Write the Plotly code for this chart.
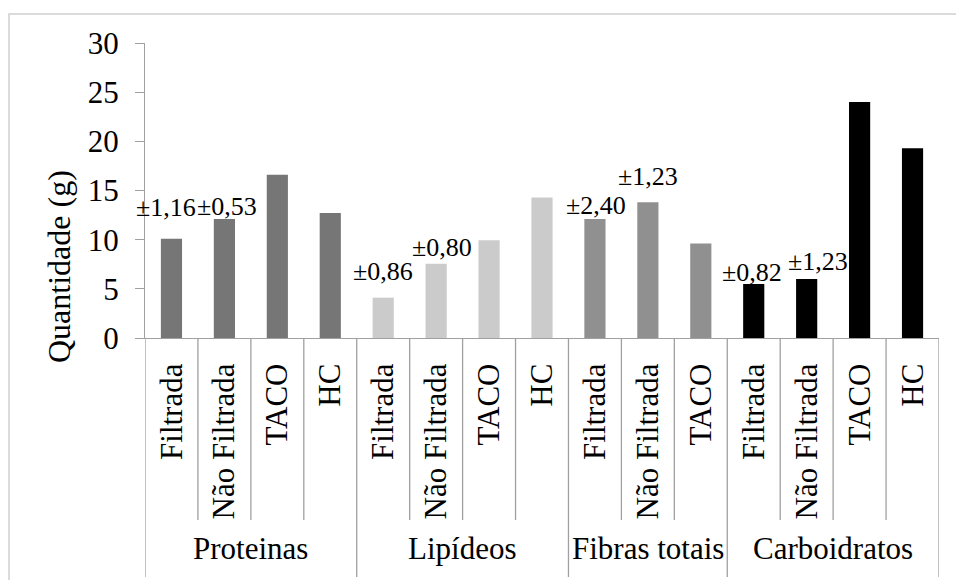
import plotly.graph_objects as go

# ---------------- data ----------------
groups = ["Proteinas", "Lipídeos", "Fibras totais", "Carboidratos"]
group_items = [
    ["Filtrada", "Não Filtrada", "TACO", "HC"],
    ["Filtrada", "Não Filtrada", "TACO", "HC"],
    ["Filtrada", "Não Filtrada", "TACO"],
    ["Filtrada", "Não Filtrada", "TACO", "HC"],
]
proteinas = [10.1, 12.1, 16.6, 12.7]
lipideos = [4.1, 7.55, 9.95, 14.3]
fibras = [12.1, 13.8, 9.6]
carboidratos = [5.5, 6.0, 24.0, 19.3]
group_values = [proteinas, lipideos, fibras, carboidratos]
error_labels = [
    ["±1,16", "±0,53", "", ""],
    ["±0,86", "±0,80", "", ""],
    ["±2,40", "±1,23", ""],
    ["±0,82", "±1,23", "", ""],
]
y_ticks = [0, 5, 10, 15, 20, 25, 30]
y_title = "Quantidade (g)"

# ---------------- style ----------------
group_colors = ["#767676", "#cbcbcb", "#909090", "#000000"]
label_shift = {0: (-5, 31), 1: (3, 13), 4: (0, 26), 5: (6, 16),
               8: (1, 14), 9: (0, 26), 11: (-2, 11), 12: (11, 18)}
W, H = 956, 580
L, R, T, B = 145, 939, 43, 338
serif = "Liberation Serif"
axis_gray = "#a0a0a0"


def px_x(px):
    return (px - L) / (R - L)


def px_y(py):
    return (B - py) / (B - T)


ids, sub_labels, vals, colors, errs = [], [], [], [], []
for gi, (g, items, v, e) in enumerate(zip(groups, group_items, group_values, error_labels)):
    for it, val, er in zip(items, v, e):
        ids.append(f"{g}|{it}")
        sub_labels.append(it)
        vals.append(val)
        colors.append(group_colors[gi])
        errs.append(er)

fig = go.Figure()
fig.add_trace(go.Bar(x=ids, y=vals, marker=dict(color=colors, line=dict(width=0)),
                     hoverinfo="x+y"))

annotations = []
for i, (cid, v, er) in enumerate(zip(ids, vals, errs)):
    if er:
        dx, dy = label_shift.get(i, (0, 15))
        annotations.append(dict(x=cid, y=v, xref="x", yref="y", text=er, showarrow=False,
                                xanchor="center", yanchor="middle", xshift=dx, yshift=dy,
                                font=dict(family=serif, size=26, color="black")))

shapes = []
start = 0
n_total = len(ids)
for gi, g in enumerate(groups):
    n = len(group_items[gi])
    center = start + (n - 1) / 2
    annotations.append(dict(x=center, y=px_y(548), xref="x", yref="paper", text=g,
                            showarrow=False, xanchor="center", yanchor="middle",
                            font=dict(family=serif, size=31, color="black")))
    start += n

boundaries_group = {-0.5}
s = 0
for items in group_items:
    s += len(items)
    boundaries_group.add(s - 0.5)
for k in range(n_total + 1):
    b = k - 0.5
    y1 = px_y(577) if b in boundaries_group else px_y(520)
    shapes.append(dict(type="line", xref="x", yref="paper", x0=b, x1=b, y0=0, y1=y1,
                       line=dict(color=axis_gray, width=1.3)))

shapes.append(dict(type="rect", xref="paper", yref="paper", x0=px_x(9), x1=px_x(962),
                   y0=px_y(590), y1=px_y(14), line=dict(color="#cfcfcf", width=1.5),
                   fillcolor="rgba(0,0,0,0)", layer="below"))

annotations.append(dict(x=px_x(59), y=px_y(267), xref="paper", yref="paper", text=y_title,
                        showarrow=False, textangle=-90, xanchor="center", yanchor="middle",
                        font=dict(family=serif, size=32, color="black")))

fig.update_layout(
    width=W, height=H,
    margin=dict(l=L, r=W - R, t=T, b=H - B, autoexpand=False),
    paper_bgcolor="white", plot_bgcolor="white",
    bargap=0.6, showlegend=False,
    font=dict(family=serif, color="black"),
    annotations=annotations, shapes=shapes,
)
fig.update_xaxes(
    type="category", categoryorder="array", categoryarray=ids,
    tickvals=ids, ticktext=sub_labels, tickangle=-90,
    range=[-0.5, n_total - 0.5], showline=True, linecolor=axis_gray, linewidth=1.3,
    ticks="", showgrid=False, zeroline=False, ticklabelstandoff=12,
    tickfont=dict(family=serif, size=31, color="black"),
)
fig.update_yaxes(
    range=[0, 30], tickvals=y_ticks, ticks="outside", ticklen=9, tickcolor=axis_gray,
    tickwidth=1.3, showline=True, linecolor=axis_gray, linewidth=1.3, showgrid=False,
    zeroline=False, ticklabelstandoff=10,
    tickfont=dict(family=serif, size=31, color="black"),
)

fig.write_html("out.html", config={"displayModeBar": False},
               post_script="document.body.style.margin='0';document.body.style.overflow='hidden';")
